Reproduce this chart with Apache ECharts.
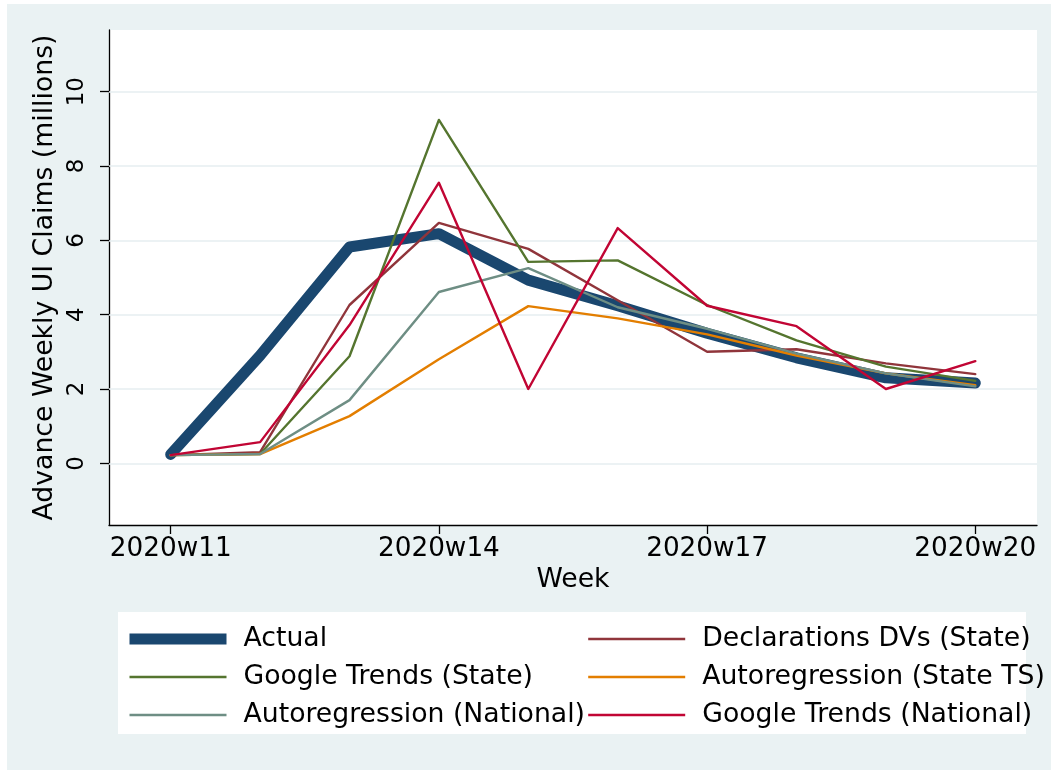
<!DOCTYPE html>
<html>
<head>
<meta charset="utf-8">
<title>Advance Weekly UI Claims</title>
<script src="https://cdn.jsdelivr.net/npm/echarts@6/dist/echarts.min.js"></script>
<style>
  html, body { margin: 0; padding: 0; background: #fff; }
  #claimsChart { width: 1051px; height: 770px; }
</style>
</head>
<body>
<div id="claimsChart"></div>
<script>
// weeks of 2020
const weeks = [11, 12, 13, 14, 15, 16, 17, 18, 19, 20]
const xTickWeeks = [11, 14, 17, 20]
const yTicks = [0, 2, 4, 6, 8, 10]

// millions of claims
const actual = [0.24, 2.9, 5.82, 6.18, 4.93, 4.24, 3.5, 2.84, 2.3, 2.16]
const declarationsState = [0.22, 0.3, 4.26, 6.47, 5.77, 4.39, 3.0, 3.07, 2.69, 2.4]
const googleState = [0.22, 0.25, 2.88, 9.24, 5.42, 5.46, 4.26, 3.31, 2.6, 2.22]
const arStateTS = [0.22, 0.25, 1.27, 2.8, 4.23, 3.9, 3.47, 2.9, 2.42, 2.1]
const arNational = [0.22, 0.25, 1.7, 4.61, 5.25, 4.2, 3.62, 2.95, 2.42, 2.07]
const googleNational = [0.22, 0.57, 3.72, 7.55, 2.0, 6.33, 4.24, 3.69, 2.0, 2.75]

const FONT = 'DejaVu Sans'
const FS = 26.7

const pairs = (vals) => weeks.map((w, i) => [w, vals[i]])

const lineSeries = (name, vals, color, width) => ({
  name: name,
  type: 'line',
  data: pairs(vals),
  symbol: 'none',
  showSymbol: false,
  lineStyle: { color: color, width: width, cap: 'round', join: 'round' },
  itemStyle: { color: color },
  z: 3
})

const legendBase = {
  orient: 'vertical',
  top: 620,
  itemWidth: 97,
  itemHeight: 2,
  itemGap: 10,
  selectedMode: false,
  itemStyle: { opacity: 0 },
  textStyle: { fontFamily: FONT, fontSize: FS, color: '#000', lineHeight: 28, padding: [0, 0, 0, 12] }
}

const legendItem = (name, width) => ({ name: name, lineStyle: { width: width, cap: 'butt' } })

const initClaimsChart = () => {
  const Chart = echarts.init(document.getElementById('claimsChart'))
  const option = {
    animation: false,
    graphic: [
      { type: 'rect', z: -100, shape: { x: 7, y: 4, width: 1044, height: 766 }, style: { fill: '#eaf2f3' } },
      { type: 'rect', z: -50, shape: { x: 118, y: 612, width: 908, height: 122 }, style: { fill: '#fff' } }
    ],
    grid: {
      left: 109, right: 14, top: 30, bottom: 245,
      show: true, backgroundColor: '#fff', borderWidth: 0
    },
    legend: [
      Object.assign({}, legendBase, {
        left: 119,
        data: [legendItem('Actual', 11), legendItem('Google Trends (State)', 2.4), legendItem('Autoregression (National)', 2.4)]
      }),
      Object.assign({}, legendBase, {
        left: 582,
        data: [legendItem('Declarations DVs (State)', 2.4), legendItem('Autoregression (State TS)', 2.4), legendItem('Google Trends (National)', 2.4)]
      })
    ],
    xAxis: {
      type: 'value',
      min: 10.31,
      max: 20.69,
      name: 'Week',
      nameLocation: 'middle',
      nameGap: 39,
      nameTextStyle: { fontFamily: FONT, fontSize: FS, color: '#000' },
      axisLine: { onZero: false, lineStyle: { color: '#000', width: 1.3 } },
      axisTick: { length: 9, customValues: xTickWeeks, lineStyle: { color: '#000', width: 1.3 } },
      axisLabel: {
        customValues: xTickWeeks,
        margin: 11,
        fontFamily: FONT, fontSize: 26.3, color: '#000',
        formatter: (v) => '2020w' + v
      },
      splitLine: { show: false }
    },
    yAxis: {
      type: 'value',
      min: -1.66,
      max: 11.66,
      name: 'Advance Weekly UI Claims (millions)',
      nameLocation: 'middle',
      nameGap: 36,
      nameTextStyle: { fontFamily: FONT, fontSize: FS, color: '#000' },
      axisLine: { show: true, onZero: false, lineStyle: { color: '#000', width: 1.3 } },
      axisTick: { show: true, length: 9, customValues: yTicks, lineStyle: { color: '#000', width: 1.3 } },
      axisLabel: {
        customValues: yTicks,
        rotate: 90,
        margin: 20,
        fontFamily: FONT, fontSize: 23, color: '#000'
      },
      splitLine: { show: false }
    },
    series: [
      {
        // horizontal grid lines at the labelled ticks
        name: 'grid',
        type: 'line',
        data: [],
        silent: true,
        z: 1,
        markLine: {
          z: 1,
          silent: true,
          symbol: ['none', 'none'],
          label: { show: false },
          lineStyle: { color: '#e6eef1', width: 1.6, type: 'solid' },
          data: yTicks.map(t => ({ yAxis: t }))
        }
      },
      lineSeries('Actual', actual, '#1a476f', 11),
      lineSeries('Declarations DVs (State)', declarationsState, '#90353b', 2.4),
      lineSeries('Google Trends (State)', googleState, '#55752f', 2.4),
      lineSeries('Autoregression (State TS)', arStateTS, '#e37e00', 2.4),
      lineSeries('Autoregression (National)', arNational, '#6e8e84', 2.4),
      lineSeries('Google Trends (National)', googleNational, '#c10534', 2.4)
    ]
  }
  Chart.setOption(option)
  return Chart
}

initClaimsChart()
</script>
</body>
</html>
